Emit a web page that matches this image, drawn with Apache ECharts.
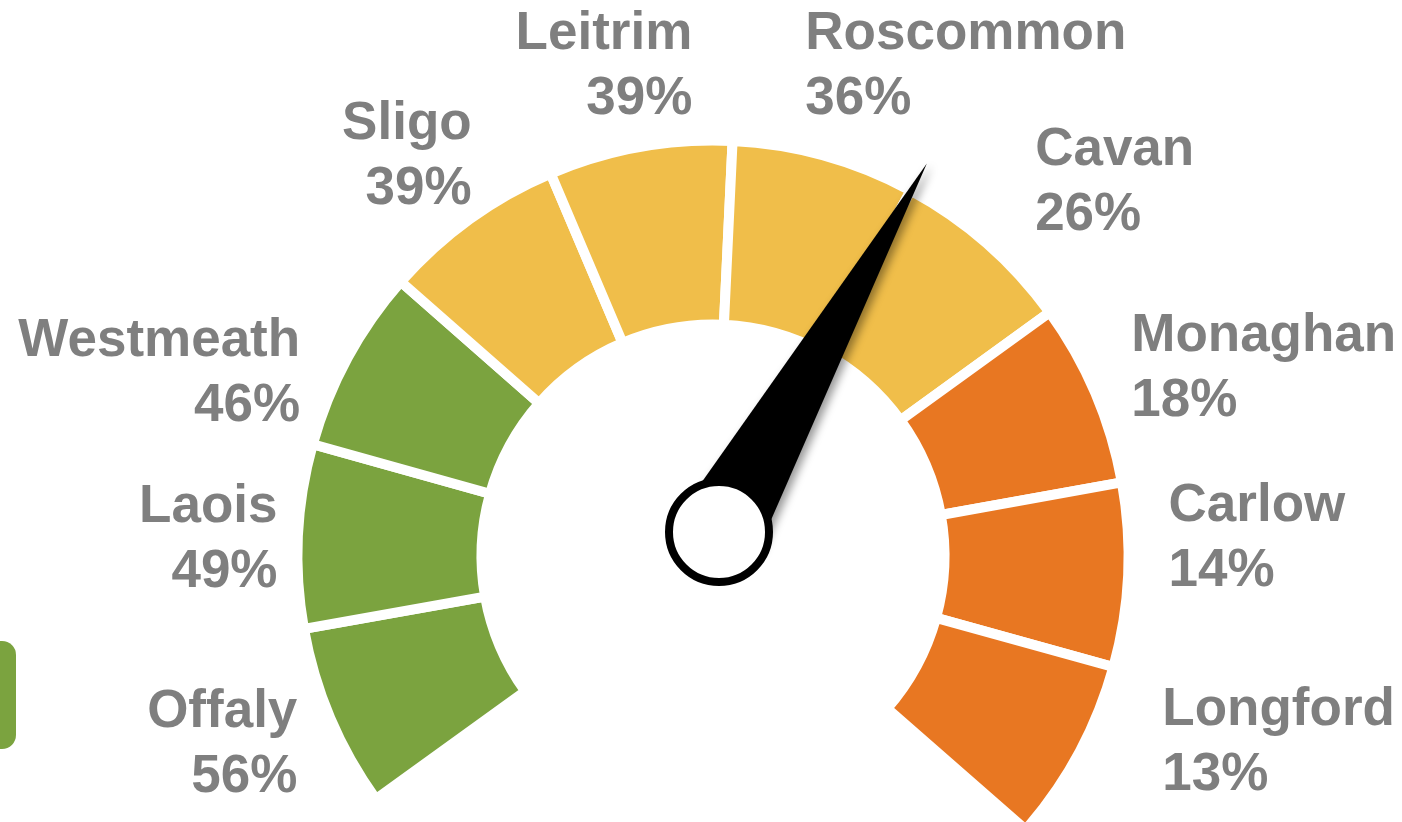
<!DOCTYPE html>
<html>
<head>
<meta charset="utf-8">
<title>Gauge</title>
<script src="https://cdn.jsdelivr.net/npm/echarts@6/dist/echarts.min.js"></script>
<style>
  html, body { margin: 0; padding: 0; background: #fff; }
  #chart { width: 1402px; height: 822px; }
</style>
</head>
<body>
<div id="chart"></div>
<script>
// data
var counties = ['Offaly', 'Laois', 'Westmeath', 'Sligo', 'Leitrim', 'Roscommon', 'Cavan', 'Monaghan', 'Carlow', 'Longford'];
var shares = [56, 49, 46, 39, 39, 36, 26, 18, 14, 13];
// needle reading, counted in county slots from the left end of the dial
var needleValue = 6.04;

// layout
var ringCenter = [713, 556];
var hubCenter = [719, 532];
var startAngle = 215.8;
var endAngle = -41.2;
// label anchor [angle, radius] round the ring centre
var labelPolar = [
  [204.0, 455], [177.3, 436], [155.7, 453], [120.9, 470], [92.4, 494],
  [79.4, 502], [49.5, 496], [24.6, 460], [2.6, 456], [-22.1, 485]
];
var labelDy = 4; // canvas 'middle' sits a little above the cap centre

function bandColor(v) {
  if (v >= 45) return '#7ba33f';
  if (v >= 20) return '#f0be4a';
  return '#e87722';
}

var chart = echarts.init(document.getElementById('chart'));

chart.setOption({
  animation: false,
  backgroundColor: '#fff',
  graphic: [{
    type: 'rect',
    shape: { x: -20, y: 641, width: 36, height: 108, r: 14 },
    style: { fill: '#7ba33f' }
  }],
  series: [{
    type: 'pie',
    silent: true,
    center: ringCenter,
    radius: [231.5, 415.5],
    startAngle: startAngle,
    endAngle: endAngle,
    clockwise: true,
    avoidLabelOverlap: false,
    itemStyle: { borderColor: '#fff', borderWidth: 10 },
    label: {
      show: true,
      position: 'outside',
      fontFamily: 'Liberation Sans, Arial, sans-serif',
      fontWeight: 'bold',
      fontSize: 53,
      lineHeight: 65,
      color: '#7f7f7f',
      formatter: function (p) {
        return p.name + '\n' + p.data.share + '%';
      }
    },
    labelLine: { show: false },
    labelLayout: function (p) {
      var lp = labelPolar[p.dataIndex];
      var a = lp[0] * Math.PI / 180;
      return {
        x: ringCenter[0] + lp[1] * Math.cos(a),
        y: ringCenter[1] - lp[1] * Math.sin(a) + labelDy,
        align: p.dataIndex < 5 ? 'right' : 'left',
        verticalAlign: 'middle'
      };
    },
    data: counties.map(function (name, i) {
      return {
        name: name,
        value: 1,
        share: shares[i],
        itemStyle: { color: bandColor(shares[i]) }
      };
    })
  }, {
    type: 'gauge',
    silent: true,
    z: 5,
    center: hubCenter,
    radius: 423,
    startAngle: startAngle,
    endAngle: endAngle,
    min: 0,
    max: counties.length,
    axisLine: { show: false },
    splitLine: { show: false },
    axisTick: { show: false },
    axisLabel: { show: false },
    title: { show: false },
    detail: { show: false },
    pointer: {
      icon: 'triangle',
      length: '100%',
      width: 86,
      itemStyle: {
        color: '#000',
        shadowColor: 'rgba(0,0,0,0.4)',
        shadowBlur: 8,
        shadowOffsetX: 5,
        shadowOffsetY: 2
      }
    },
    anchor: {
      show: true,
      showAbove: true,
      size: 100,
      itemStyle: { color: '#fff', borderColor: '#000', borderWidth: 8 }
    },
    data: [{ value: needleValue }]
  }]
});
</script>
</body>
</html>
